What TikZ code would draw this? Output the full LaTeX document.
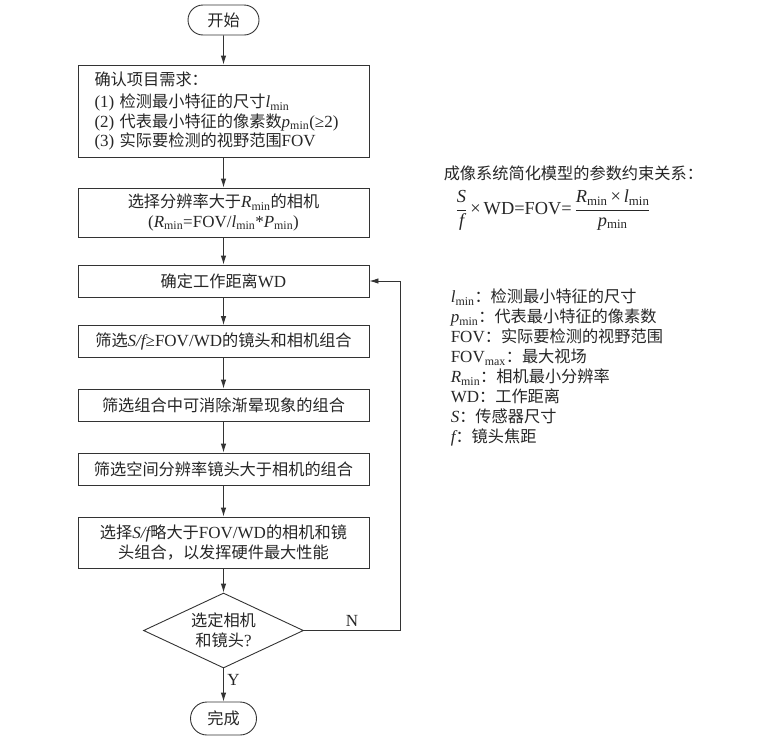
\documentclass[tikz,border=0pt]{standalone}
\usepackage{fontspec}
\setmainfont{Noto Sans CJK SC}
\newfontfamily\tm[Scale=1.05]{Liberation Serif}
\usetikzlibrary{arrows.meta}
\usetikzlibrary{shapes.geometric}
\usetikzlibrary{shapes.misc}

\newcommand{\vmin}[1]{{\tm\itshape #1}\textsubscript{\tm min}}

\begin{document}
\begin{tikzpicture}[x=1pt, y=-1pt, line width=0.9pt, draw=black!80, text=black!85,
  font=\fontsize{16.2}{19.5}\selectfont,
  box/.style={draw, rectangle, minimum width=291pt, inner sep=2pt},
  term/.style={draw, rounded rectangle, inner sep=2pt},
  dec/.style={draw, diamond, aspect=2.1, inner sep=0pt, minimum width=160pt, minimum height=75pt, align=center},
  arr/.style={-{Latex[length=9pt,width=5.5pt]}}]

\useasboundingbox (0,0) rectangle (760,750);

\node[term, minimum width=75pt, minimum height=30pt] (start) at (223.5,20) {开始};

\node[box, minimum height=92pt, text width=258pt, inner xsep=16.5pt, align=left] (req) at (223.5,111)
  {确认项目需求：\\[3pt]
   {\tm (1)} 检测最小特征的尺寸\vmin{l}\\
   {\tm (2)} 代表最小特征的像素数\vmin{p}{\tm (≥2)}\\
   {\tm (3)} 实际要检测的视野范围{\tm FOV}};

\node[box, minimum height=49pt, align=center] (cam) at (223.5,212.5)
  {选择分辨率大于\vmin{R}的相机\\{\tm (}\vmin{R}{\tm =FOV/}\vmin{l}{\tm *}\vmin{P}{\tm )}};

\node[box, minimum height=32pt] (wd) at (223.5,281) {确定工作距离{\tm WD}};
\node[box, minimum height=32pt] (sf) at (223.5,341.5) {筛选{\tm\itshape S/f}{\tm ≥FOV/WD}的镜头和相机组合};
\node[box, minimum height=32pt] (vig) at (223.5,405) {筛选组合中可消除渐晕现象的组合};
\node[box, minimum height=32pt] (res) at (223.5,469) {筛选空间分辨率镜头大于相机的组合};

\node[box, minimum height=51pt, align=center] (best) at (223.5,542.5)
  {选择{\tm\itshape S/f}略大于{\tm FOV/WD}的相机和镜\\头组合，以发挥硬件最大性能};

\node[dec] (check) at (223.5,630.5) {选定相机\\和镜头{\tm ?}};

\node[term, minimum width=70pt, minimum height=33pt] (done) at (223.5,718.5) {完成};

\draw[arr] (start) -- (req);
\draw[arr] (req) -- (cam);
\draw[arr] (cam) -- (wd);
\draw[arr] (wd) -- (sf);
\draw[arr] (sf) -- (vig);
\draw[arr] (vig) -- (res);
\draw[arr] (res) -- (best);
\draw[arr] (best) -- (check);
\draw[arr] (check) -- node[right, pos=0.35] {\tm Y} (done);

\coordinate (loop) at (400,630.5);
\draw[arr] (check.east) -- node[above, pos=0.5] {\tm N} (loop) |- (wd.east);

% parameter relations
\node[anchor=west] (title) at (440,173) {成像系统简化模型的参数约束关系：};
\node[anchor=west, font=\fontsize{17.5}{20}\selectfont] (formula) at (452,210)
  {$\displaystyle\frac{\mbox{\tm\itshape S}}{\mbox{\tm\itshape f}}$\,{\tm ×\,WD=FOV=}\,%
   $\displaystyle\frac{\mbox{\vmin{R}\,{\tm ×}\,\vmin{l}}}{\mbox{\vmin{p}}}$};

\node[anchor=north west, align=left, font=\fontsize{16.2}{20}\selectfont] (legend) at (447,285)
  {\vmin{l}：检测最小特征的尺寸\\
   \vmin{p}：代表最小特征的像素数\\
   {\tm FOV}：实际要检测的视野范围\\
   {\tm FOV\textsubscript{max}}：最大视场\\
   \vmin{R}：相机最小分辨率\\
   {\tm WD}：工作距离\\
   {\tm\itshape S}：传感器尺寸\\
   {\tm\itshape f}：镜头焦距};

\end{tikzpicture}
\end{document}
